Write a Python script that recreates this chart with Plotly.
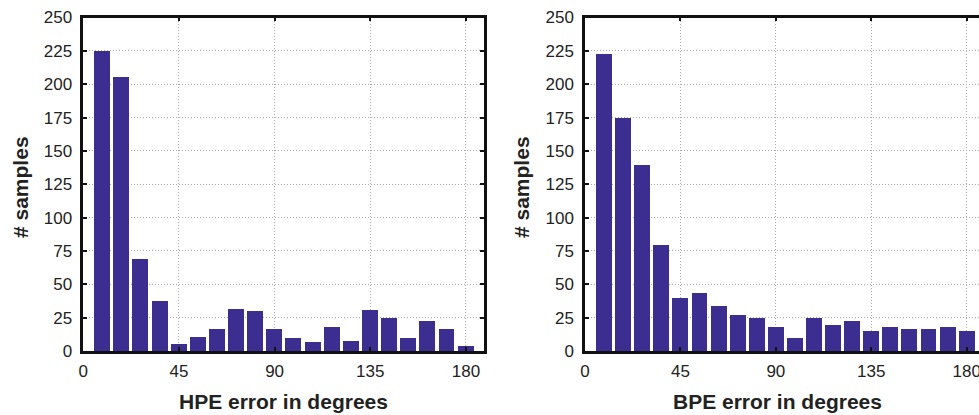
import plotly.graph_objects as go

# bin centers (degrees)
bin_centers = [9, 18, 27, 36, 45, 54, 63, 72, 81, 90, 99, 108, 117, 126, 135, 144, 153, 162, 171, 180]
hpe_counts = [225, 206, 69, 38, 6, 11, 17, 32, 30, 17, 10, 7, 18, 8, 31, 25, 10, 23, 17, 4]
bpe_counts = [223, 175, 140, 80, 40, 44, 34, 27, 25, 18, 10, 25, 20, 23, 15, 18, 17, 17, 18, 15]
x_ticks = [0, 45, 90, 135, 180]
y_ticks = [0, 25, 50, 75, 100, 125, 150, 175, 200, 225, 250]
x_titles = ["HPE error in degrees", "BPE error in degrees"]
y_title = "# samples"

BAR = "#3c2d91"
FONT = "Liberation Sans, Arial, Helvetica, sans-serif"
W, H = 979, 415

fig = go.Figure()
fig.add_trace(go.Bar(x=bin_centers, y=hpe_counts, width=7.5, marker=dict(color=BAR, line=dict(width=0)),
                     xaxis="x", yaxis="y", showlegend=False))
fig.add_trace(go.Bar(x=bin_centers, y=bpe_counts, width=7.5, marker=dict(color=BAR, line=dict(width=0)),
                     xaxis="x2", yaxis="y2", showlegend=False))

y_dom = [1 - 351 / H, 1 - 17.5 / H]
x1_dom = [83.3 / W, 484 / W]
x2_dom = [585 / W, 1.0]

def xax(dom, rng, anchor):
    return dict(domain=dom, range=rng, anchor=anchor, tickvals=x_ticks, ticks="inside", ticklen=4,
                tickwidth=2, tickcolor="#111", showline=True, linewidth=2.5, linecolor="#111",
                mirror="ticks", showgrid=True, gridcolor="#aaaaaa", griddash="1px,2px", gridwidth=1,
                zeroline=False, automargin=False, tickfont=dict(family=FONT, size=17, color="#222"),
                ticklabelstandoff=3, ticklabeloverflow="allow")

def yax(anchor, mirror):
    return dict(domain=y_dom, range=[0, 250], anchor=anchor, tickvals=y_ticks, ticks="inside", ticklen=4,
                tickwidth=2, tickcolor="#111", showline=True, linewidth=2.5, linecolor="#111",
                mirror=mirror, showgrid=True, gridcolor="#aaaaaa", griddash="1px,2px", gridwidth=1,
                zeroline=False, automargin=False, tickfont=dict(family=FONT, size=17, color="#222"),
                ticklabelstandoff=5)

fig.update_layout(
    template="none",
    width=W, height=H, margin=dict(l=0, r=0, t=0, b=0, autoexpand=False),
    paper_bgcolor="white", plot_bgcolor="white", bargap=0,
    xaxis=xax(x1_dom, [0, 188.5], "y"),
    yaxis=yax("x", "ticks"),
    xaxis2=xax(x2_dom, [0, 185.8], "y2"),
    yaxis2=yax("x2", False),
)

# axis titles
fig.add_annotation(x=(x1_dom[0] + x1_dom[1]) / 2, y=1 - 401 / H, xref="paper", yref="paper",
                   text="<b>%s</b>" % x_titles[0], showarrow=False,
                   font=dict(family=FONT, size=21, color="#222"), xanchor="center", yanchor="middle")
fig.add_annotation(x=(585 + 182 * 2.12 / 2) / W, y=1 - 401 / H, xref="paper", yref="paper",
                   text="<b>%s</b>" % x_titles[1], showarrow=False,
                   font=dict(family=FONT, size=21, color="#222"), xanchor="center", yanchor="middle")
fig.add_annotation(x=21 / W, y=1 - 187 / H, xref="paper", yref="paper", text="<b>%s</b>" % y_title,
                   textangle=-90, showarrow=False, font=dict(family=FONT, size=21, color="#222"),
                   xanchor="center", yanchor="middle")
fig.add_annotation(x=522 / W, y=1 - 187 / H, xref="paper", yref="paper", text="<b>%s</b>" % y_title,
                   textangle=-90, showarrow=False, font=dict(family=FONT, size=21, color="#222"),
                   xanchor="center", yanchor="middle")

fig.write_html("out.html")
